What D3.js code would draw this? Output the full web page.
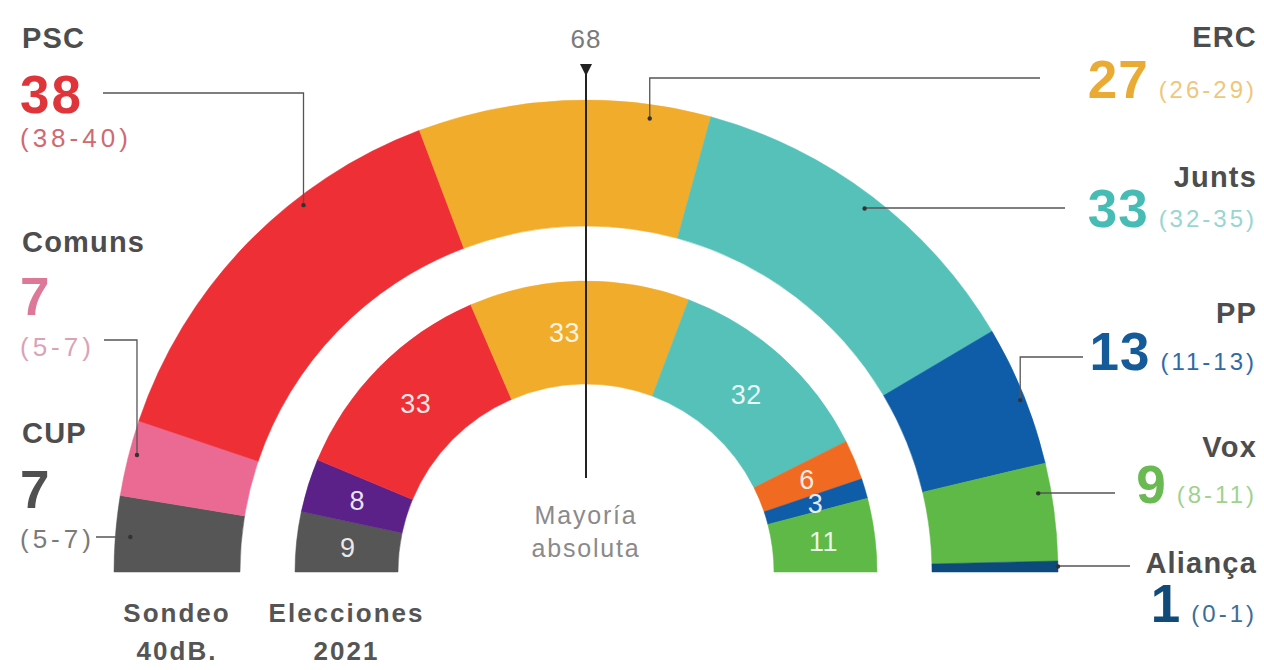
<!DOCTYPE html>
<html>
<head>
<meta charset="utf-8">
<script src="https://cdn.jsdelivr.net/npm/d3@7"></script>
<style>
  html, body { margin: 0; padding: 0; background: #fff; }
  svg { display: block; font-family: "Liberation Sans", Arial, sans-serif; }
</style>
</head>
<body>
<svg id="chart" width="1264" height="670"></svg>
<script>
// ---- Data ----
const sondeoParties = ["CUP", "Comuns", "PSC", "ERC", "Junts", "PP", "Vox", "Aliança"];
const sondeoSeats   = [7, 7, 38, 27, 33, 13, 9, 1];
const sondeoRanges  = ["(5-7)", "(5-7)", "(38-40)", "(26-29)", "(32-35)", "(11-13)", "(8-11)", "(0-1)"];

const eleccionesParties = ["CUP", "Comuns", "PSC", "ERC", "Junts", "Cs", "PP", "Vox"];
const eleccionesSeats   = [9, 8, 33, 33, 32, 6, 3, 11];

const majoritySeats = 68;
const majorityLabel = ["Mayoría", "absoluta"];
const ringTitles = [["Sondeo", "40dB."], ["Elecciones", "2021"]];

// ---- Styles ----
const partyColor = {
  "CUP": "#565656", "Comuns": "#ea6a93", "PSC": "#ee2f36", "ERC": "#f2ac2b",
  "Junts": "#55c1b9", "PP": "#0f5da8", "Vox": "#5eb946", "Aliança": "#0c4a7c", "Cs": "#f06a22"
};
const innerColor = Object.assign({}, partyColor, { "Comuns": "#5b2189" });
const numberColor = {
  "CUP": "#505050", "Comuns": "#dd7898", "PSC": "#e0343b", "ERC": "#eaab34",
  "Junts": "#47bcb4", "PP": "#165b99", "Vox": "#6ab952", "Aliança": "#0f4a78"
};
const rangeColor = {
  "CUP": "#7a7a7a", "Comuns": "#dba2b6", "PSC": "#cf6a72", "ERC": "#efc77a",
  "Junts": "#97d6d1", "PP": "#2f6aa6", "Vox": "#9fd28f", "Aliança": "#3d6d94"
};

// label layout (annotations)
const labelLayout = {
  "PSC":     { side: "left",  nameY: 48,  numY: 113, rangeY: 147, lineY: 93,  lineX0: 103, seat: 39.3,  r: 463 },
  "Comuns":  { side: "left",  nameY: 252, numY: 315, rangeY: 356, lineY: 340, lineX0: 104, seat: 10.95, r: 464 },
  "CUP":     { side: "left",  nameY: 443, numY: 508, rangeY: 548, lineY: 537, lineX0: 96,  seat: 3.3,   r: 457 },
  "ERC":     { side: "right", nameY: 47,  numY: 98,  lineY: 78,  lineX0: 1040, seat: 73.5,  r: 458 },
  "Junts":   { side: "right", nameY: 187, numY: 227, lineY: 208, lineX0: 1065, seat: 95.6,  r: 458 },
  "PP":      { side: "right", nameY: 323, numY: 370, lineY: 357, lineX0: 1083, seat: 118.8, r: 467 },
  "Vox":     { side: "right", nameY: 457, numY: 503, lineY: 493, lineX0: 1115, seat: 127.6, r: 459 },
  "Aliança": { side: "right", nameY: 573, numY: 622, lineY: 566, lineX0: 1130, seat: 134.5, r: 472 }
};

const cx = 586, cy = 572;
const outerR = [346, 472];
const innerR = [188, 291];
const total = d3.sum(sondeoSeats);

const svg = d3.select("#chart");
const g = svg.append("g").attr("transform", `translate(${cx},${cy})`);

// seat -> angle (d3.arc convention: 0 at 12 o'clock, clockwise)
const seatAngle = d3.scaleLinear().domain([0, total]).range([-Math.PI / 2, Math.PI / 2]);
const polar = (seat, r) => {
  const a = seatAngle(seat);
  return [r * Math.sin(a), -r * Math.cos(a)];
};

const pie = d3.pie().sort(null).value(d => d.seats)
  .startAngle(-Math.PI / 2).endAngle(Math.PI / 2);

const outerData = pie(sondeoParties.map((p, i) => ({ party: p, seats: sondeoSeats[i] })));
const innerData = pie(eleccionesParties.map((p, i) => ({ party: p, seats: eleccionesSeats[i] })));

const arcOuter = d3.arc().innerRadius(outerR[0]).outerRadius(outerR[1]);
const arcInner = d3.arc().innerRadius(innerR[0]).outerRadius(innerR[1]);

g.selectAll("path.outer").data(outerData).join("path")
  .attr("class", "outer")
  .attr("d", arcOuter)
  .attr("fill", d => partyColor[d.data.party])
  .attr("stroke", d => partyColor[d.data.party]).attr("stroke-width", 0.5);

g.selectAll("path.inner").data(innerData).join("path")
  .attr("class", "inner")
  .attr("d", arcInner)
  .attr("fill", d => innerColor[d.data.party])
  .attr("stroke", d => innerColor[d.data.party]).attr("stroke-width", 0.5);

// inner numbers
g.selectAll("text.innerNum").data(innerData).join("text")
  .attr("class", "innerNum")
  .attr("transform", d => {
    const c = arcInner.centroid(d);
    return `translate(${c[0]},${c[1]})`;
  })
  .attr("dx", d => d.data.party === "ERC" ? -16 : 0)
  .attr("dy", "0.36em")
  .attr("text-anchor", "middle")
  .attr("fill", "#fff")
  .attr("fill-opacity", 0.88)
  .attr("font-size", 27)
  .attr("letter-spacing", 0.5)
  .text(d => d.data.seats);

// majority marker
const mx = polar(majoritySeats - 0.5, 0)[0];
g.append("line")
  .attr("x1", mx).attr("x2", mx)
  .attr("y1", -outerR[1] - 26).attr("y2", -innerR[0] + 94)
  .attr("stroke", "#222").attr("stroke-width", 2);
g.append("path")
  .attr("d", d3.line()([[mx - 6, -outerR[1] - 36], [mx + 6, -outerR[1] - 36], [mx, -outerR[1] - 24]]) + "Z")
  .attr("fill", "#222");
g.append("text")
  .attr("x", mx).attr("y", -outerR[1] - 52)
  .attr("text-anchor", "middle").attr("fill", "#7a7a7a")
  .attr("font-size", 26).attr("letter-spacing", 1)
  .text(majoritySeats);
g.selectAll("text.maj").data(majorityLabel).join("text")
  .attr("class", "maj")
  .attr("x", mx).attr("y", (d, i) => -48 + i * 33)
  .attr("text-anchor", "middle").attr("fill", "#8a8a8a")
  .attr("font-size", 25).attr("letter-spacing", 1.8)
  .text(d => d);

// ring titles
const ringCenters = [-(outerR[0] + outerR[1]) / 2, -(innerR[0] + innerR[1]) / 2];
ringTitles.forEach((lines, k) => {
  lines.forEach((t, i) => {
    g.append("text")
      .attr("x", ringCenters[k]).attr("y", 50 + i * 38)
      .attr("text-anchor", "middle").attr("fill", "#555")
      .attr("font-size", 26).attr("font-weight", "bold").attr("letter-spacing", 2)
      .text(t);
  });
});

// party labels & callouts
const labels = svg.append("g");
sondeoParties.forEach((p, i) => {
  const L = labelLayout[p];
  const [ax, ay] = polar(L.seat, L.r);
  const px = cx + ax, py = cy + ay;
  labels.append("path")
    .attr("d", `M${L.lineX0},${L.lineY}H${px}V${py}`)
    .attr("fill", "none").attr("stroke", "#555").attr("stroke-width", 1.3);
  labels.append("circle").attr("cx", px).attr("cy", py).attr("r", 2.2).attr("fill", "#333");

  if (L.side === "left") {
    labels.append("text").attr("x", 22).attr("y", L.nameY)
      .attr("fill", "#4d4d4d").attr("font-size", 29).attr("font-weight", "bold").attr("letter-spacing", 1.2)
      .text(p);
    labels.append("text").attr("x", 20).attr("y", L.numY)
      .attr("fill", numberColor[p]).attr("font-size", 53).attr("font-weight", "bold").attr("letter-spacing", 2)
      .text(sondeoSeats[i]);
    labels.append("text").attr("x", 20).attr("y", L.rangeY)
      .attr("fill", rangeColor[p]).attr("font-size", 26).attr("letter-spacing", 4)
      .text(sondeoRanges[i]);
  } else {
    labels.append("text").attr("x", 1257).attr("y", L.nameY)
      .attr("text-anchor", "end")
      .attr("fill", "#4d4d4d").attr("font-size", 29).attr("font-weight", "bold").attr("letter-spacing", 1.2)
      .text(p);
    const rt = labels.append("text").attr("x", 1257).attr("y", L.numY)
      .attr("text-anchor", "end")
      .attr("fill", rangeColor[p]).attr("font-size", 24).attr("letter-spacing", 3)
      .text(sondeoRanges[i]);
    const w = rt.node().getComputedTextLength();
    labels.append("text").attr("x", 1257 - w - 10).attr("y", L.numY)
      .attr("text-anchor", "end")
      .attr("fill", numberColor[p]).attr("font-size", 53).attr("font-weight", "bold").attr("letter-spacing", 1)
      .text(sondeoSeats[i]);
  }
});
</script>
</body>
</html>
